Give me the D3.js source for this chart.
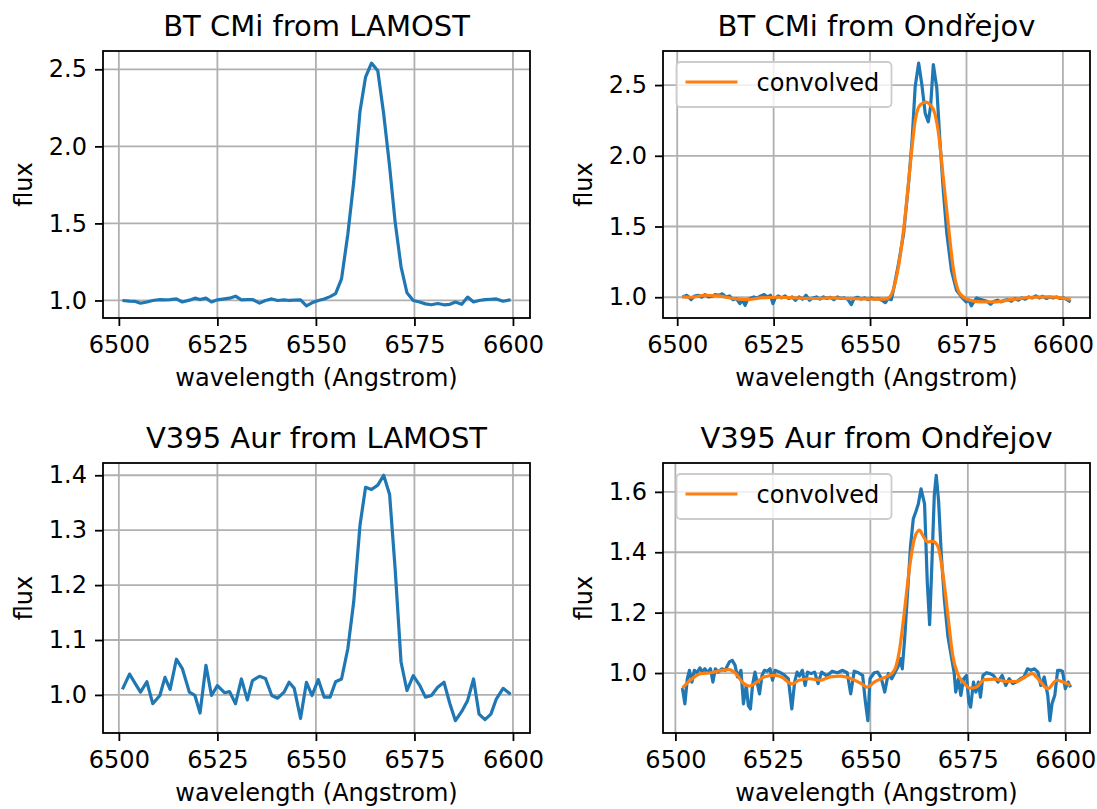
<!DOCTYPE html>
<html>
<head>
<meta charset="utf-8">
<script src="https://cdn.jsdelivr.net/npm/d3@7"></script>
<style>
  body { margin: 0; background: #fff; }
  svg { font-family: "DejaVu Sans", sans-serif; }
</style>
</head>
<body>
<svg id="fig" width="1097" height="809"></svg>
<script>
// [wavelength, flux] pairs
var btLamost = [[6500.9,1.000],[6502.7,0.996],[6504.2,0.994],[6505.5,0.982],[6507.1,0.990],[6508.6,1.000],[6510.4,1.006],[6511.7,1.004],[6513.0,1.006],[6514.6,1.010],[6516.1,0.990],[6517.9,1.002],[6519.3,1.015],[6520.6,1.006],[6522.1,1.015],[6523.5,0.990],[6525.0,1.004],[6526.8,1.010],[6528.1,1.015],[6529.6,1.028],[6531.1,1.004],[6532.6,1.006],[6533.9,1.006],[6535.7,0.983],[6537.2,1.000],[6538.8,1.010],[6540.3,1.000],[6541.9,1.004],[6543.2,1.000],[6544.5,1.002],[6546.1,1.004],[6547.6,0.965],[6549.0,0.985],[6550.6,1.000],[6552.1,1.010],[6553.6,1.025],[6555.0,1.045],[6556.5,1.140],[6558.1,1.430],[6559.6,1.770],[6561.2,2.230],[6562.6,2.450],[6564.1,2.540],[6565.7,2.490],[6567.2,2.210],[6568.7,1.870],[6570.1,1.510],[6571.6,1.220],[6573.1,1.050],[6574.7,1.000],[6576.3,0.990],[6577.8,0.978],[6579.3,0.972],[6580.9,0.980],[6582.5,0.972],[6584.0,0.975],[6585.4,0.990],[6587.0,0.975],[6588.5,1.022],[6590.0,0.990],[6591.4,1.000],[6592.9,1.005],[6594.4,1.008],[6595.8,1.010],[6597.5,0.995],[6599.4,1.005]];

var btOndrejov = [[6501.35,1.002],[6502.53,1.014],[6503.61,0.983],[6504.51,1.009],[6505.42,1.014],[6506.32,1.000],[6507.22,1.019],[6508.12,1.002],[6509.03,1.007],[6509.93,1.019],[6510.83,1.014],[6511.73,1.024],[6512.64,1.002],[6513.54,1.009],[6514.44,0.983],[6515.34,0.991],[6516.25,0.955],[6516.97,0.979],[6517.60,0.943],[6518.23,0.983],[6518.95,0.991],[6519.86,1.002],[6520.76,0.995],[6521.66,1.009],[6522.56,1.019],[6523.47,1.002],[6524.19,1.014],[6524.82,0.955],[6525.45,0.995],[6526.17,1.009],[6527.08,0.995],[6527.98,1.009],[6528.88,0.991],[6529.78,1.002],[6530.69,0.979],[6531.59,1.002],[6532.49,0.986],[6533.39,1.014],[6534.30,0.979],[6535.20,0.995],[6536.10,1.002],[6537.00,0.986],[6537.91,1.002],[6538.81,0.991],[6539.71,1.000],[6540.61,0.983],[6541.52,1.002],[6542.42,0.991],[6543.32,0.995],[6544.22,0.986],[6545.13,0.948],[6545.85,0.991],[6546.75,1.000],[6547.65,0.986],[6548.56,0.995],[6549.46,0.983],[6550.36,0.995],[6551.26,0.986],[6552.17,0.991],[6553.07,0.979],[6553.97,0.962],[6554.69,0.991],[6555.51,0.983],[6556.2,1.07],[6557.4,1.24],[6558.7,1.45],[6560.0,1.81],[6560.9,2.11],[6561.7,2.49],[6562.6,2.655],[6563.4,2.51],[6564.3,2.30],[6565.1,2.24],[6565.7,2.35],[6566.4,2.645],[6567.3,2.48],[6568.1,2.11],[6569.0,1.75],[6569.9,1.45],[6571.1,1.19],[6572.4,1.05],[6574.1,0.99],[6574.91,0.967],[6575.63,0.979],[6576.26,0.939],[6576.90,0.967],[6577.62,0.995],[6578.52,0.986],[6579.42,0.979],[6580.32,0.972],[6581.23,0.950],[6582.13,0.972],[6583.03,0.979],[6583.94,0.967],[6584.84,0.979],[6585.74,0.983],[6586.64,0.972],[6587.55,0.991],[6588.45,0.979],[6589.35,0.995],[6590.25,0.986],[6591.16,1.002],[6592.06,0.995],[6592.96,1.009],[6593.86,0.995],[6594.77,1.007],[6595.67,0.991],[6596.57,1.002],[6597.47,0.995],[6598.38,1.002],[6599.28,0.991],[6600.18,0.995],[6601.08,0.983],[6601.99,0.967]];

var btConvolved = [[6501.35,1.002],[6503.61,1.000],[6507.22,1.014],[6510.83,1.009],[6514.44,0.991],[6518.05,0.983],[6521.66,0.995],[6526.17,1.000],[6530.69,0.995],[6535.20,0.991],[6539.71,0.995],[6544.22,0.991],[6548.74,0.988],[6553.25,0.986],[6554.5,0.990],[6556.2,1.07],[6557.9,1.31],[6559.2,1.60],[6560.4,1.93],[6561.7,2.25],[6563.0,2.36],[6564.5,2.38],[6565.6,2.36],[6566.4,2.33],[6567.7,2.17],[6569.0,1.84],[6570.3,1.51],[6571.5,1.22],[6573.2,1.03],[6575.7,0.980],[6578.52,0.967],[6582.13,0.967],[6586.64,0.983],[6592.06,1.000],[6595.67,1.002],[6600.18,0.993],[6601.99,0.983]];

var v395Lamost = [[6500.9,1.010],[6502.7,1.038],[6504.2,1.020],[6505.5,1.005],[6507.1,1.024],[6508.6,0.984],[6510.4,0.999],[6511.7,1.032],[6513.0,1.010],[6514.6,1.065],[6516.1,1.048],[6517.9,1.005],[6519.3,0.999],[6520.6,0.967],[6522.1,1.054],[6523.5,0.999],[6525.0,1.017],[6526.8,1.004],[6528.1,1.006],[6529.6,0.984],[6531.1,1.029],[6532.6,0.991],[6533.9,1.026],[6535.7,1.034],[6537.2,1.030],[6538.8,0.999],[6540.3,0.994],[6541.9,1.005],[6543.2,1.023],[6544.5,1.012],[6546.1,0.957],[6547.6,1.023],[6549.0,0.999],[6550.6,1.028],[6552.1,0.996],[6553.6,0.996],[6555.0,1.024],[6556.5,1.029],[6558.1,1.084],[6559.6,1.170],[6561.2,1.310],[6562.6,1.378],[6564.1,1.374],[6565.7,1.382],[6567.2,1.400],[6568.7,1.365],[6570.1,1.230],[6571.6,1.060],[6573.1,1.008],[6574.7,1.035],[6576.3,1.018],[6577.8,0.996],[6579.3,0.999],[6580.9,1.014],[6582.5,1.023],[6584.0,0.984],[6585.4,0.953],[6587.0,0.970],[6588.5,0.990],[6590.0,1.029],[6591.4,0.965],[6592.9,0.955],[6594.4,0.965],[6595.8,0.993],[6597.5,1.012],[6599.4,1.001]];

var v395Ondrejov = [[6501.80,0.950],[6502.43,0.898],[6503.06,0.981],[6503.60,1.009],[6504.23,0.970],[6504.86,1.009],[6505.58,1.001],[6506.29,1.017],[6506.92,1.003],[6507.55,1.014],[6508.27,1.001],[6508.99,1.014],[6509.62,0.970],[6510.25,1.014],[6510.97,1.003],[6511.87,1.014],[6512.77,1.009],[6513.85,1.037],[6514.57,1.042],[6515.29,1.026],[6515.92,0.987],[6516.82,1.009],[6517.45,0.898],[6518.17,0.959],[6518.71,0.892],[6519.24,0.881],[6519.78,0.959],[6520.41,1.003],[6521.04,0.965],[6521.58,0.931],[6522.21,0.992],[6522.84,1.009],[6523.56,1.006],[6524.28,1.014],[6524.91,0.976],[6525.54,1.009],[6526.71,1.003],[6527.88,0.994],[6528.96,0.981],[6529.86,0.881],[6530.58,0.970],[6531.21,1.003],[6531.83,0.990],[6532.55,1.009],[6533.27,0.959],[6533.90,1.003],[6534.80,0.998],[6535.70,1.003],[6536.60,0.965],[6537.50,1.003],[6538.85,0.990],[6540.20,1.006],[6541.55,1.001],[6542.90,1.009],[6544.06,1.001],[6544.96,0.931],[6545.86,1.006],[6546.94,1.001],[6548.02,0.992],[6548.74,0.903],[6549.37,0.842],[6549.91,0.981],[6550.99,1.001],[6551.89,1.003],[6552.79,0.983],[6553.69,0.937],[6554.59,0.998],[6555.49,0.981],[6556.38,1.003],[6557.28,1.026],[6557.73,1.048],[6558.18,1.014],[6558.8,1.114],[6559.5,1.258],[6560.3,1.420],[6561.0,1.510],[6561.7,1.536],[6562.3,1.560],[6563.0,1.610],[6563.9,1.560],[6564.6,1.300],[6565.2,1.160],[6565.8,1.370],[6566.4,1.590],[6566.9,1.655],[6567.5,1.570],[6568.2,1.390],[6569.0,1.240],[6569.9,1.120],[6570.7,1.060],[6571.5,1.000],[6571.9,0.937],[6572.6,0.981],[6573.2,0.926],[6573.92,0.981],[6574.64,0.992],[6575.27,0.903],[6575.72,0.887],[6576.44,0.970],[6577.07,0.937],[6577.70,0.970],[6578.24,0.920],[6578.87,0.992],[6579.77,1.001],[6580.67,0.998],[6581.56,0.992],[6582.73,0.970],[6583.81,0.992],[6584.71,0.959],[6585.61,0.981],[6586.51,0.965],[6587.41,0.970],[6588.49,0.981],[6589.39,0.987],[6590.29,1.014],[6591.19,1.009],[6592.09,1.014],[6592.99,1.003],[6593.71,0.959],[6594.60,0.987],[6595.50,0.926],[6596.04,0.842],[6596.58,0.898],[6597.30,0.926],[6598.02,1.009],[6598.65,1.009],[6599.28,1.006],[6600.00,0.948],[6600.72,0.970],[6601.35,0.953]];

var v395Convolved = [[6501.8,0.950],[6503.8,0.976],[6506.5,0.998],[6509.2,1.001],[6511.9,1.009],[6513.7,1.011],[6515.5,0.998],[6517.3,0.968],[6519.1,0.957],[6520.9,0.970],[6522.7,0.987],[6525.4,0.992],[6527.2,0.987],[6529.9,0.964],[6531.7,0.976],[6534.4,0.981],[6537.1,0.976],[6539.7,0.987],[6542.4,0.990],[6545.1,0.981],[6547.8,0.964],[6549.2,0.953],[6551.0,0.970],[6553.2,0.983],[6554.5,0.990],[6556.2,1.010],[6557.4,1.070],[6558.7,1.200],[6560.0,1.345],[6561.3,1.445],[6562.6,1.473],[6563.4,1.457],[6564.7,1.434],[6566.0,1.436],[6567.3,1.420],[6568.6,1.330],[6569.9,1.190],[6571.1,1.060],[6572.4,0.997],[6574.1,0.966],[6575.5,0.950],[6577.1,0.953],[6579.3,0.978],[6582.0,0.980],[6584.7,0.972],[6587.4,0.972],[6589.7,0.987],[6591.5,0.998],[6593.3,0.976],[6595.5,0.948],[6597.8,0.976],[6599.1,0.972],[6601.3,0.959]];

var xTicks = [6500, 6525, 6550, 6575, 6600];
var yTicksBt = [1.0, 1.5, 2.0, 2.5];
var yTicksV395Lamost = [1.0, 1.1, 1.2, 1.3, 1.4];
var yTicksV395Ondrejov = [1.0, 1.2, 1.4, 1.6];

var panels = [
  {title: 'BT CMi from LAMOST', left: 103, top: 51, height: 267, yTicks: yTicksBt, spec: btLamost, conv: null},
  {title: 'BT CMi from Ondřejov', left: 663, top: 51, height: 267, yTicks: yTicksBt, spec: btOndrejov, conv: btConvolved},
  {title: 'V395 Aur from LAMOST', left: 103, top: 463, height: 270, yTicks: yTicksV395Lamost, spec: v395Lamost, conv: null},
  {title: 'V395 Aur from Ondřejov', left: 663, top: 463, height: 270, yTicks: yTicksV395Ondrejov, spec: v395Ondrejov, conv: v395Convolved}
];
var panelWidth = 427;
var fontSize = 24, titleSize = 29;

var svg = d3.select('#fig');

// matplotlib style 5% margins
function padded(ext) {
  var m = (ext[1] - ext[0]) * 0.05;
  return [ext[0] - m, ext[1] + m];
}

panels.forEach(function(p) {
  var w = panelWidth, h = p.height;
  var g = svg.append('g').attr('transform', 'translate(' + p.left + ',' + p.top + ')');
  var pts = p.conv ? p.spec.concat(p.conv) : p.spec;
  var x = d3.scaleLinear().domain(padded(d3.extent(pts, d => d[0]))).range([0, w]);
  var y = d3.scaleLinear().domain(padded(d3.extent(pts, d => d[1]))).range([h, 0]);

  // grid
  g.selectAll('.vgrid').data(xTicks).enter().append('line')
    .attr('class', 'vgrid')
    .attr('x1', d => x(d)).attr('x2', d => x(d))
    .attr('y1', 0).attr('y2', h)
    .attr('stroke', '#b0b0b0').attr('stroke-width', 1.8);
  g.selectAll('.hgrid').data(p.yTicks).enter().append('line')
    .attr('class', 'hgrid')
    .attr('x1', 0).attr('x2', w)
    .attr('y1', d => y(d)).attr('y2', d => y(d))
    .attr('stroke', '#b0b0b0').attr('stroke-width', 1.8);

  // spectra
  var line = d3.line().x(d => x(d[0])).y(d => y(d[1]));
  g.append('path').datum(p.spec)
    .attr('d', line)
    .attr('fill', 'none')
    .attr('stroke', '#1f77b4')
    .attr('stroke-width', 3.2)
    .attr('stroke-linejoin', 'round');

  if (p.conv) {
    g.append('path').datum(p.conv)
      .attr('d', d3.line().curve(d3.curveMonotoneX).x(d => x(d[0])).y(d => y(d[1])))
      .attr('fill', 'none')
      .attr('stroke', '#ff7f0e')
      .attr('stroke-width', 3.2)
      .attr('stroke-linejoin', 'round');
  }

  // axes
  var xa = g.append('g').attr('transform', 'translate(0,' + h + ')')
    .call(d3.axisBottom(x).tickValues(xTicks).tickSize(8).tickPadding(10).tickFormat(d3.format('d')));
  var ya = g.append('g')
    .call(d3.axisLeft(y).tickValues(p.yTicks).tickSize(8).tickPadding(8).tickFormat(d3.format('.1f')));
  [xa, ya].forEach(function(a) {
    a.select('.domain').remove();
    a.attr('font-family', null).attr('font-size', fontSize);
    a.selectAll('.tick line').attr('stroke', '#000').attr('stroke-width', 1.8);
    a.selectAll('.tick text').attr('fill', '#000');
  });

  // frame
  g.append('rect')
    .attr('width', w).attr('height', h)
    .attr('fill', 'none').attr('stroke', '#000').attr('stroke-width', 1.8);

  // legend
  if (p.conv) {
    var lg = g.append('g').attr('transform', 'translate(13.5,11)');
    lg.append('rect')
      .attr('width', 215).attr('height', 45).attr('rx', 4)
      .attr('fill', '#fff').attr('fill-opacity', 0.8)
      .attr('stroke', '#cccccc').attr('stroke-width', 1.8);
    lg.append('line')
      .attr('x1', 9).attr('x2', 61).attr('y1', 20).attr('y2', 20)
      .attr('stroke', '#ff7f0e').attr('stroke-width', 3.2);
    lg.append('text')
      .attr('x', 80).attr('y', 29)
      .attr('font-size', fontSize)
      .text('convolved');
  }

  // labels
  g.append('text')
    .attr('x', w / 2).attr('y', -15)
    .attr('text-anchor', 'middle')
    .attr('font-size', titleSize)
    .text(p.title);
  g.append('text')
    .attr('x', w / 2).attr('y', h + 68)
    .attr('text-anchor', 'middle')
    .attr('font-size', fontSize)
    .text('wavelength (Angstrom)');
  g.append('text')
    .attr('transform', 'translate(-71,' + (h / 2) + ') rotate(-90)')
    .attr('text-anchor', 'middle')
    .attr('font-size', fontSize)
    .text('flux');
});
</script>
</body>
</html>
